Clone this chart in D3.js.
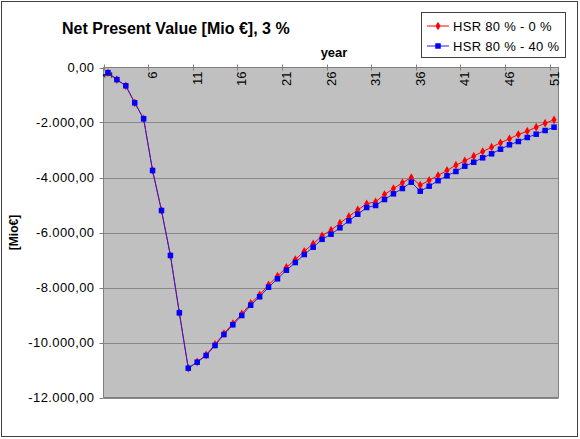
<!DOCTYPE html>
<html>
<head>
<meta charset="utf-8">
<script src="https://cdn.jsdelivr.net/npm/d3@7"></script>
<style>
  body { margin: 0; background: #fff; }
  svg { font-family: "Liberation Sans", Arial, sans-serif; display: block; }
</style>
</head>
<body>
<svg id="chart" width="580" height="439"></svg>
<script>
// Years 1..51
const years = d3.range(1, 52);

// NPV series [Mio €]
const hsr0 = [
  -190, -440, -665, -1284, -1865, -3745, -5200, -6836, -8920, -10935,
  -10705, -10450, -10070, -9675, -9310, -8960, -8580, -8265, -7905, -7590,
  -7270, -6985, -6685, -6410, -6120, -5916, -5662, -5418, -5175, -4956,
  -4884, -4618, -4400, -4193, -4000, -4280, -4102, -3927, -3745, -3553,
  -3393, -3225, -3055, -2898, -2738, -2593, -2436, -2316, -2171, -2025,
  -1902
];
const hsr40 = [
  -190, -440, -665, -1284, -1865, -3745, -5200, -6836, -8920, -10935,
  -10716, -10473, -10109, -9709, -9356, -9018, -8644, -8338, -7989, -7684,
  -7371, -7091, -6800, -6535, -6247, -6062, -5829, -5575, -5335, -5091,
  -5018, -4800, -4593, -4400, -4171, -4498, -4316, -4116, -3938, -3782,
  -3589, -3444, -3284, -3138, -2971, -2811, -2691, -2545, -2425, -2291,
  -2171
];

const seriesNames = ["HSR 80 % - 0 %", "HSR 80 % - 40 %"];
const yTicks = [0, -2000, -4000, -6000, -8000, -10000, -12000];
const xLabels = [1, 6, 11, 16, 21, 26, 31, 36, 41, 46, 51];

const svg = d3.select("#chart");

// chart area border
svg.append("rect")
  .attr("x", 1.5).attr("y", 1.5)
  .attr("width", 576).attr("height", 435)
  .attr("fill", "#fff").attr("stroke", "#404040").attr("stroke-width", 1);

const pLeft = 103.5, pRight = 558.5, pTop = 67.5, pBottom = 397.5;

const x = d3.scaleBand().domain(years).range([pLeft, pRight]);
const y = d3.scaleLinear().domain([-12000, 0]).range([pBottom, pTop]);
const cx = d => x(d) + x.bandwidth() / 2;

const fmt = d3.formatLocale({
  decimal: ",", thousands: ".", grouping: [3], currency: ["", "€"], minus: "-"
}).format(",.2f");

// plot area
svg.append("rect")
  .attr("x", pLeft).attr("y", pTop)
  .attr("width", pRight - pLeft).attr("height", pBottom - pTop)
  .attr("fill", "#c0c0c0").attr("stroke", "#808080");

// gridlines
svg.append("g").selectAll("line")
  .data(yTicks.filter(d => d !== 0))
  .enter().append("line")
  .attr("x1", pLeft).attr("x2", pRight)
  .attr("y1", d => Math.round(y(d)) + 0.5).attr("y2", d => Math.round(y(d)) + 0.5)
  .attr("stroke", "#888");

// y axis
const yAxis = svg.append("g");
yAxis.append("line")
  .attr("x1", pLeft).attr("x2", pLeft).attr("y1", pTop).attr("y2", pBottom)
  .attr("stroke", "#808080");
yAxis.selectAll("line.tick")
  .data(yTicks).enter().append("line")
  .attr("class", "tick")
  .attr("x1", pLeft - 4).attr("x2", pLeft)
  .attr("y1", d => Math.round(y(d)) + 0.5).attr("y2", d => Math.round(y(d)) + 0.5)
  .attr("stroke", "#808080");
yAxis.selectAll("text")
  .data(yTicks).enter().append("text")
  .attr("x", pLeft - 9).attr("y", d => y(d))
  .attr("dy", "0.35em")
  .attr("text-anchor", "end")
  .attr("font-size", 13).attr("letter-spacing", 0.4)
  .text(d => fmt(d));

// x axis along the top (value 0)
const xAxis = svg.append("g");
xAxis.append("line")
  .attr("x1", pLeft).attr("x2", pRight).attr("y1", y(0)).attr("y2", y(0))
  .attr("stroke", "#808080");
xAxis.selectAll("line.tick")
  .data(xLabels).enter().append("line")
  .attr("class", "tick")
  .attr("x1", d => Math.round(x(d)) + 0.5).attr("x2", d => Math.round(x(d)) + 0.5)
  .attr("y1", y(0) - 3).attr("y2", y(0) + 3)
  .attr("stroke", "#808080");
xAxis.selectAll("text")
  .data(xLabels).enter().append("text")
  .attr("transform", d => `translate(${cx(d) + 4.5},${y(0) + 4}) rotate(-90)`)
  .attr("text-anchor", "end")
  .attr("font-size", 13)
  .text(d => d);

// axis titles
svg.append("text")
  .attr("x", 334).attr("y", 57)
  .attr("text-anchor", "middle")
  .attr("font-size", 13).attr("font-weight", "bold")
  .text("year");
svg.append("text")
  .attr("transform", `translate(18,${(pTop + pBottom) / 2}) rotate(-90)`)
  .attr("text-anchor", "middle")
  .attr("font-size", 12).attr("font-weight", "bold")
  .text("[Mio€]");

// title
svg.append("text")
  .attr("x", 62).attr("y", 34)
  .attr("font-size", 16).attr("font-weight", "bold")
  .text("Net Present Value [Mio €], 3 %");

// series
const line = d3.line().x((d, i) => cx(years[i])).y(d => y(d));
const diamond = d3.symbol().type(d3.symbolDiamond).size(22);

// red series
svg.append("path")
  .datum(hsr0)
  .attr("d", line)
  .attr("fill", "none").attr("stroke", "#ff0000").attr("stroke-width", 1);
svg.append("g").selectAll("path")
  .data(hsr0).enter().append("path")
  .attr("d", diamond)
  .attr("transform", (d, i) => `translate(${cx(years[i])},${y(d)})`)
  .attr("fill", "#ff0000");

// blue series
svg.append("path")
  .datum(hsr40)
  .attr("d", line)
  .attr("fill", "none").attr("stroke", "#2a1fdc").attr("stroke-width", 1);
svg.append("g").selectAll("rect")
  .data(hsr40).enter().append("rect")
  .attr("x", (d, i) => cx(years[i]) - 2.75)
  .attr("y", d => y(d) - 2.75)
  .attr("width", 5.5).attr("height", 5.5)
  .attr("fill", "#0000ff");

// legend
const legend = svg.append("g");
legend.append("rect")
  .attr("x", 421.5).attr("y", 12.5)
  .attr("width", 144).attr("height", 45)
  .attr("fill", "#fff").attr("stroke", "#404040");
const colors = ["#ff0000", "#0000ff"];
seriesNames.forEach((name, i) => {
  const ly = 26 + i * 20;
  legend.append("line")
    .attr("x1", 427).attr("x2", 449).attr("y1", ly).attr("y2", ly)
    .attr("stroke", i === 0 ? "#ff0000" : "#2a1fdc");
  if (i === 0) {
    legend.append("path").attr("d", diamond)
      .attr("transform", `translate(438,${ly})`).attr("fill", colors[i]);
  } else {
    legend.append("rect")
      .attr("x", 435.25).attr("y", ly - 2.75).attr("width", 5.5).attr("height", 5.5)
      .attr("fill", colors[i]);
  }
  legend.append("text")
    .attr("x", 453).attr("y", ly).attr("dy", "0.35em")
    .attr("font-size", 13).attr("letter-spacing", 0.3)
    .text(name);
});
</script>
</body>
</html>
